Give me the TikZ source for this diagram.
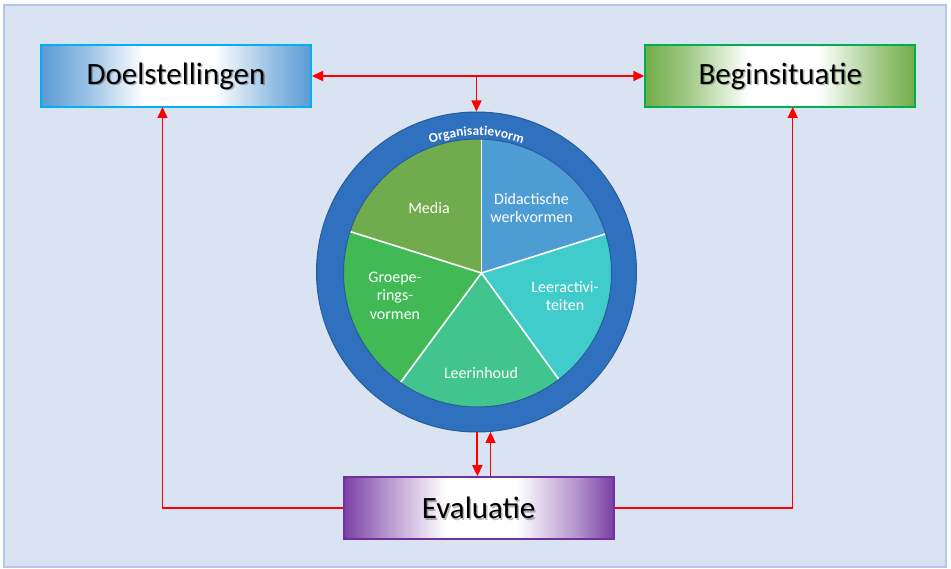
\documentclass[tikz,border=0pt]{standalone}
\usepackage{fontspec}
\setmainfont{Carlito}
\usetikzlibrary{arrows.meta,decorations.text,calc}
\definecolor{bgfill}{HTML}{DAE3F1}
\definecolor{bgline}{HTML}{B4C7E7}
\definecolor{doelc}{HTML}{5B9BD5}
\definecolor{doelb}{HTML}{00B0F0}
\definecolor{begc}{HTML}{70AD47}
\definecolor{begb}{HTML}{00B050}
\definecolor{evac}{HTML}{7A3FA6}
\definecolor{evab}{HTML}{7030A0}
\definecolor{ringc}{HTML}{2F70BF}
\definecolor{ringb}{HTML}{2A5C99}
\definecolor{mediac}{HTML}{70AB4E}
\definecolor{didc}{HTML}{4D9DD4}
\definecolor{leerac}{HTML}{40CCCB}
\definecolor{leerinc}{HTML}{41C48D}
\definecolor{groepc}{HTML}{41B954}
\definecolor{arrowc}{HTML}{FF0000}
\pgfdeclarehorizontalshading{doelshade}{100bp}{color(0bp)=(doelc); color(25bp)=(doelc); color(33bp)=(doelc!65!white); color(44bp)=(white); color(57bp)=(white); color(68bp)=(doelc!65!white); color(75bp)=(doelc); color(100bp)=(doelc)}
\pgfdeclarehorizontalshading{begshade}{100bp}{color(0bp)=(begc); color(25bp)=(begc); color(33bp)=(begc!65!white); color(44bp)=(white); color(57bp)=(white); color(68bp)=(begc!65!white); color(75bp)=(begc); color(100bp)=(begc)}
\pgfdeclarehorizontalshading{evashade}{100bp}{color(0bp)=(evac); color(25bp)=(evac); color(33bp)=(evac!55!white); color(44bp)=(white); color(57bp)=(white); color(68bp)=(evac!55!white); color(75bp)=(evac); color(100bp)=(evac)}
\tikzset{
  bigbox/.style={rectangle, minimum width=270pt, minimum height=62pt, inner sep=0pt, line width=2pt, font=\fontsize{31}{36}\selectfont},
  boxshadow/.style={text=black, opacity=0.28, font=\fontsize{31}{36}\selectfont, inner sep=0pt},
  pielabel/.style={text=white, align=center, font=\fontsize{16}{18.5}\selectfont, inner sep=0pt},
  redline/.style={draw=arrowc, line width=1.5pt},
}
\begin{document}
\begin{tikzpicture}[x=1pt,y=-1pt,>={Triangle[length=11pt,width=10pt]}]
\useasboundingbox (0,0) rectangle (951,569);
\fill[white] (0,0) rectangle (951,569);
\draw[fill=bgfill, draw=bgline, line width=2.5pt] (4,5) rectangle (946,567);

% ring
\node[circle, minimum size=320pt, inner sep=0pt, fill=ringc, draw=ringb, line width=1pt] (ring) at (476.5,272) {};
% pie
\begin{scope}
\clip (477.5,273) circle[radius=134];
\coordinate (apex) at (481.5,273);
\fill[mediac]   (apex) -- ($(apex)+(-90:300)$)  -- ($(apex)+(-126:300)$) -- ($(apex)+(-162.5:300)$) -- cycle;
\fill[groepc]   (apex) -- ($(apex)+(-162.5:300)$) -- ($(apex)+(-198:300)$) -- ($(apex)+(-233.5:300)$) -- cycle;
\fill[leerinc]  (apex) -- ($(apex)+(-233.5:300)$) -- ($(apex)+(-270:300)$) -- ($(apex)+(-306:300)$) -- cycle;
\fill[leerac]   (apex) -- ($(apex)+(-306:300)$) -- ($(apex)+(-342:300)$) -- ($(apex)+(-377.5:300)$) -- cycle;
\fill[didc]     (apex) -- ($(apex)+(-17.5:300)$) -- ($(apex)+(-54:300)$) -- ($(apex)+(-90:300)$) -- cycle;
\foreach \a in {-90,-162.5,-233.5,-306,-17.5}
  \draw[white, line width=1.6pt] (apex) -- ($(apex)+(\a:300)$);
\end{scope}
\draw[ringb, line width=1pt] (477.5,273) circle[radius=134];

% pie labels
\node[pielabel] (media) at (429,208) {Media};
\node[pielabel] (didac) at (531.5,208) {Didactische\\werkvormen};
\node[pielabel] (leeract) at (565,296) {Leeractivi-\\teiten};
\node[pielabel] (leerin) at (481,373.5) {Leerinhoud};
\node[pielabel] (groep) at (395,295.5) {Groepe-\\rings-\\vormen};

% ring text
\path[decorate, decoration={text along path, text align=center, text color=white,
  text={|\fontsize{13.5}{15}\selectfont\bfseries|Organisatievorm}}]
  ($(ring.center)+(-135:136.5)$) arc[start angle=-135, end angle=-45, radius=136.5];

% boxes
\node[bigbox, draw=doelb, shading=doelshade] (doel) at (176,76) {};
\node[boxshadow] (doelsh) at (177.5,77.5) {Doelstellingen};
\node[inner sep=0pt, font=\fontsize{31}{36}\selectfont] (doelt) at (176,76) {Doelstellingen};

\node[bigbox, draw=begb, shading=begshade] (begin) at (780.3,76) {};
\node[boxshadow] (beginsh) at (781.8,77.5) {Beginsituatie};
\node[inner sep=0pt, font=\fontsize{31}{36}\selectfont] (begint) at (780.3,76) {Beginsituatie};

\node[bigbox, draw=evab, shading=evashade] (eva) at (478.7,508.2) {};
\node[boxshadow] (evash) at (480.2,509.7) {Evaluatie};
\node[inner sep=0pt, font=\fontsize{31}{36}\selectfont] (evat) at (478.7,508.2) {Evaluatie};

% connectors
\coordinate (topj) at (476.5,76);
\coordinate (dl) at (162.5,107);
\coordinate (br) at (792.7,107);
\draw[redline, <->] (doel.east) -- (begin.west);
\draw[redline, ->] (topj) -- (ring.north);
\draw[redline, ->] (eva.west) -| (dl);
\draw[redline, ->] (eva.east) -| (br);
\coordinate (dnA) at (477.4,432);
\draw[draw=arrowc, line width=2pt, ->] (dnA) -- (dnA |- eva.north);
\draw[draw=arrowc, line width=1pt, <-] (ring.-85.8) -- (ring.-85.8 |- eva.north);
\end{tikzpicture}
\end{document}
